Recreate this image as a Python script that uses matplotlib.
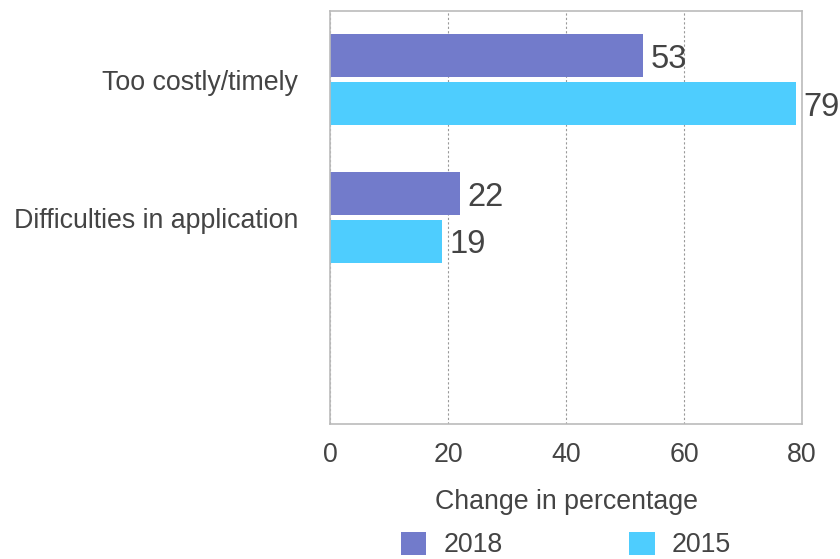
import numpy as np
import matplotlib
matplotlib.use("Agg")
import matplotlib.pyplot as plt

plt.rcParams['font.family'] = ['Liberation Sans', 'DejaVu Sans']

# Reasons, with one empty slot at the bottom
categories = ['Too costly/timely', 'Difficulties in application', '']
values_2018 = [53, 22, None]
values_2015 = [79, 19, None]
series_names = ['2018', '2015']
series_colors = ['#727BCB', '#4ECDFE']
x_ticks = [0, 20, 40, 60, 80]

text_color = '#444444'
fs = 19.3

fig = plt.figure(figsize=(8.4, 5.59), dpi=100)
ax = fig.add_axes([0.3929, 0.2415, 0.5619, 0.7388])

y = np.arange(len(categories))
bar_h = 0.312
offset = 0.174

for vals, off, color, name in zip([values_2018, values_2015], [-offset, offset],
                                  series_colors, series_names):
    idx = [i for i, v in enumerate(vals) if v is not None]
    vv = [vals[i] for i in idx]
    bars = ax.barh(y[idx] + off, vv, height=bar_h, color=color, label=name, zorder=2)
    for b, v in zip(bars, vv):
        ax.text(b.get_width() + 1.3, b.get_y() + b.get_height() / 2, str(v),
                ha='left', va='center_baseline', fontsize=23.5, color=text_color, zorder=3)

ax.set_ylim(len(categories) - 0.5, -0.5)
ax.set_xlim(0, 80)
ax.set_yticks(y)
ax.set_yticklabels(categories, va='center_baseline')
ax.set_xticks(x_ticks)

ax.tick_params(axis='both', length=0, labelsize=fs, labelcolor=text_color)
ax.tick_params(axis='y', pad=23)
ax.tick_params(axis='x', pad=13)

ax.grid(axis='x', linestyle=(0, (2, 2)), color='#999999', linewidth=0.8, zorder=1)
ax.set_axisbelow(True)
for s in ax.spines.values():
    s.set_color('#bbbbbb')
    s.set_linewidth(1.2)

ax.set_xlabel('Change in percentage', fontsize=fs, color=text_color, labelpad=15)

fig.legend(loc='lower center', bbox_to_anchor=(0.674, -0.042), ncol=2, frameon=False,
           fontsize=fs, labelcolor=text_color, handlelength=0.95, handleheight=0.95,
           handletextpad=0.65, columnspacing=4.7)

fig.savefig('out.png', dpi=100)
